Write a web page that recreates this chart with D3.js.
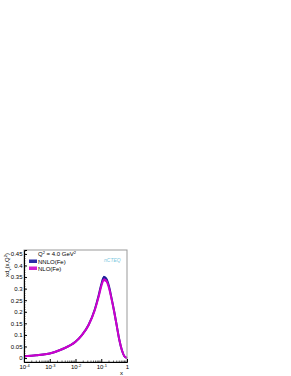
<!DOCTYPE html>
<html>
<head>
<meta charset="utf-8">
<script src="https://cdn.jsdelivr.net/npm/d3@7"></script>
<style>
body { margin: 0; background: #fff; }
text { font-family: "Liberation Sans", Arial, sans-serif; }
</style>
</head>
<body>
<div id="canvas"></div>
<script>
var width = 291,
	height = 376;

// curves sampled in x
var xs = [1e-4, 3e-4, 1e-3, 3e-3, 1e-2, 0.018, 0.032, 0.056, 0.079, 0.1, 0.126, 0.158, 0.2, 0.25, 0.32, 0.4, 0.5, 0.63, 0.79, 1];
var nnlo = [0.008, 0.012, 0.02, 0.038, 0.07, 0.1, 0.143, 0.21, 0.27, 0.318, 0.349, 0.342, 0.31, 0.26, 0.2, 0.14, 0.08, 0.035, 0.008, 0.0];
var nnloErr = [0.002, 0.002, 0.002, 0.002, 0.003, 0.003, 0.004, 0.005, 0.006, 0.007, 0.007, 0.007, 0.006, 0.006, 0.005, 0.004, 0.003, 0.003, 0.002, 0.001];
var nlo = [0.008, 0.012, 0.02, 0.038, 0.07, 0.1, 0.142, 0.207, 0.265, 0.31, 0.338, 0.333, 0.303, 0.256, 0.198, 0.139, 0.08, 0.035, 0.008, 0.0];
var nloErr = [0.002, 0.002, 0.002, 0.002, 0.003, 0.003, 0.004, 0.004, 0.005, 0.005, 0.006, 0.006, 0.005, 0.005, 0.004, 0.004, 0.003, 0.003, 0.002, 0.001];

var yTicks = [0, 0.05, 0.1, 0.15, 0.2, 0.25, 0.3, 0.35, 0.4, 0.45];
var xTicks = [1e-4, 1e-3, 1e-2, 1e-1, 1];
var xTickLabels = ["10", "10", "10", "10", "1"];
var xTickExp = ["-4", "-3", "-2", "-1", ""];

var pLeft = 24, pRight = 127, pTop = 250, pBottom = 362;

var svg = d3.select("#canvas")
	.append("svg")
		.attr("width", width)
		.attr("height", height)
		.style("background-color", "#fff");

var x = d3.scaleLog().domain([1e-4, 1]).range([pLeft, pRight]);
var y = d3.scaleLinear().domain([-0.017, 0.467]).range([pBottom, pTop]);

function drawBand(vals, errs, fill, stroke) {
	var pts = xs.map(function(d, i){ return {x: d, v: vals[i], e: errs[i]}; });
	var area = d3.area()
		.x(function(d){ return x(d.x); })
		.y0(function(d){ return y(d.v - d.e); })
		.y1(function(d){ return y(d.v + d.e); })
		.curve(d3.curveMonotoneX);
	svg.append("path")
		.datum(pts)
		.attr("d", area)
		.attr("fill", fill);
	var line = d3.line()
		.x(function(d){ return x(d.x); })
		.y(function(d){ return y(d.v); })
		.curve(d3.curveMonotoneX);
	svg.append("path")
		.datum(pts)
		.attr("d", line)
		.attr("fill", "none")
		.attr("stroke", stroke)
		.attr("stroke-width", 2);
}

drawBand(nnlo, nnloErr, "#2b2ba8", "#1e1e98");
drawBand(nlo, nloErr, "#d21ed2", "#cc00cc");

// frame
svg.append("rect")
	.attr("x", pLeft).attr("y", pTop)
	.attr("width", pRight - pLeft).attr("height", pBottom - pTop)
	.attr("fill", "none").attr("stroke", "#999").attr("stroke-width", 1);

// y axis
var yAxis = d3.axisLeft(y).tickValues(yTicks).tickSize(-3).tickFormat(function(d){ return d === 0 ? "0" : d3.format(".2~f")(d); });
var gy = svg.append("g").attr("transform", "translate(" + pLeft + ",0)").call(yAxis);
gy.select(".domain").attr("stroke", "#000");
gy.selectAll("text").attr("font-size", 6).attr("x", -1.5).attr("fill", "#000");
var yMinor = d3.range(0, 0.47, 0.01);
svg.selectAll(".yminor").data(yMinor).enter().append("line")
	.attr("x1", pLeft).attr("x2", pLeft + 1.5)
	.attr("y1", function(d){ return y(d); }).attr("y2", function(d){ return y(d); })
	.attr("stroke", "#000").attr("stroke-width", 0.6);

// x axis
var xAxis = d3.axisBottom(x).tickValues(xTicks).tickSize(-3).tickFormat(function(d, i){ return xTickLabels[i]; });
var gx = svg.append("g").attr("transform", "translate(0," + pBottom + ")").call(xAxis);
gx.select(".domain").attr("stroke", "#000");
gx.selectAll("text").attr("font-size", 6).attr("y", 3).attr("fill", "#000")
	.append("tspan").attr("dy", -2.5).attr("font-size", 4).text(function(d, i){ return xTickExp[i]; });
var xMinor = [];
for (var e = -4; e < 0; e++) {
	for (var k = 2; k < 10; k++) xMinor.push(k * Math.pow(10, e));
}
svg.selectAll(".xminor").data(xMinor).enter().append("line")
	.attr("x1", function(d){ return x(d); }).attr("x2", function(d){ return x(d); })
	.attr("y1", pBottom).attr("y2", pBottom - 1.5)
	.attr("stroke", "#000").attr("stroke-width", 0.6);

// axis titles
svg.append("text").attr("x", 120).attr("y", 375).attr("font-size", 6).text("x");
svg.append("text")
	.attr("transform", "translate(9,253) rotate(-90)")
	.attr("text-anchor", "end").attr("font-size", 6)
	.html('xd<tspan font-size="4" dy="1.5">v</tspan><tspan dy="-1.5">(x,Q</tspan><tspan font-size="4" dy="-2">2</tspan><tspan dy="2">)</tspan>');

// label + legend
svg.append("text").attr("x", 38).attr("y", 256).attr("font-size", 6)
	.html('Q<tspan font-size="4" dy="-2">2</tspan><tspan dy="2"> = 4.0 GeV</tspan><tspan font-size="4" dy="-2">2</tspan>');
var legend = [{name: "NNLO(Fe)", color: "#2b2ba8"}, {name: "NLO(Fe)", color: "#d21ed2"}];
legend.forEach(function(d, i){
	var ly = 262 + i * 7;
	svg.append("rect").attr("x", 29).attr("y", ly - 2.5).attr("width", 8).attr("height", 3.5).attr("fill", d.color);
	svg.append("text").attr("x", 38).attr("y", ly + 1.5).attr("font-size", 6).text(d.name);
});

// logo
svg.append("text").attr("x", 104).attr("y", 262).attr("font-size", 5)
	.attr("font-style", "italic").attr("fill", "#7cc8e0").text("nCTEQ");
</script>
</body>
</html>
